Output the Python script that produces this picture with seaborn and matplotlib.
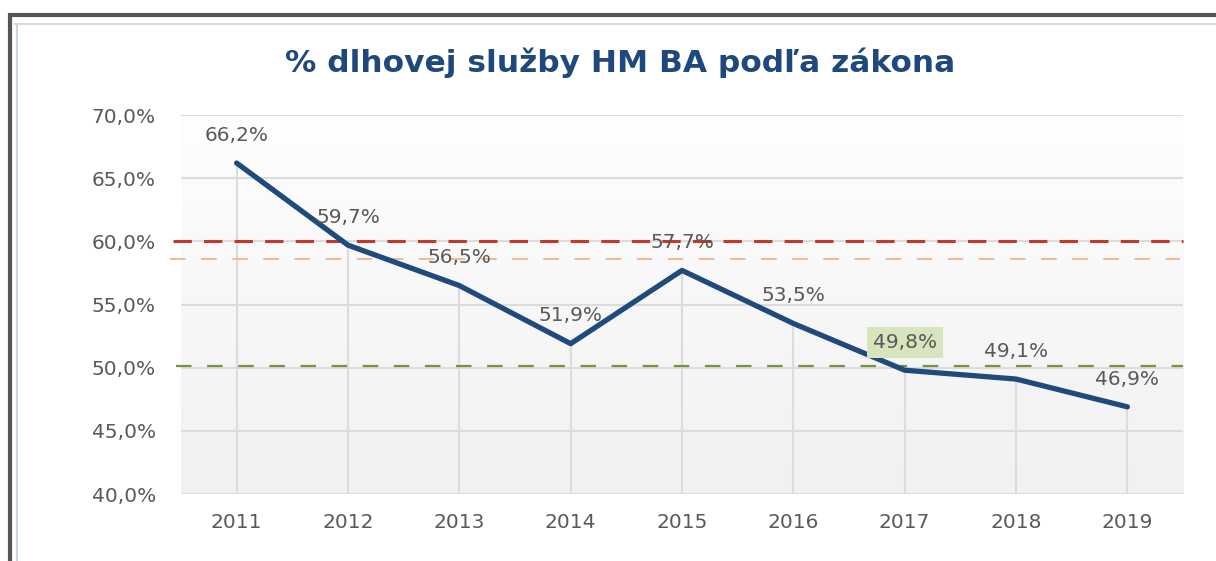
import numpy as np
import pandas as pd
import matplotlib
matplotlib.use("Agg")
import matplotlib.pyplot as plt
import seaborn as sns
from matplotlib.lines import Line2D

years = ["2011", "2012", "2013", "2014", "2015", "2016", "2017", "2018", "2019"]
values = [66.2, 59.7, 56.5, 51.9, 57.7, 53.5, 49.8, 49.1, 46.9]
labels = ["66,2%", "59,7%", "56,5%", "51,9%", "57,7%", "53,5%", "49,8%", "49,1%", "46,9%"]
y_ticks = [40, 45, 50, 55, 60, 65, 70]
y_tick_labels = ["40,0%", "45,0%", "50,0%", "55,0%", "60,0%", "65,0%", "70,0%"]
limit_red = 60.0
limit_orange = 58.6
limit_green = 50.1
title = "% dlhovej služby HM BA podľa zákona"

sns.set_style("white")
plt.rcParams['font.family'] = ['DejaVu Sans']

df = pd.DataFrame({"pos": np.arange(len(years)), "val": values})

fig = plt.figure(figsize=(12.16, 5.61), dpi=100)
ax = fig.add_axes([0.1488, 0.1194, 0.8241, 0.6756])

# gradient background
grad = np.linspace(0, 1, 256).reshape(-1, 1)
cmap = matplotlib.colors.LinearSegmentedColormap.from_list("bg", ["#f1f1f1", "#fefefe"])
ax.imshow(grad, extent=[0, 1, 0, 1], transform=ax.transAxes, aspect="auto",
          cmap=cmap, origin="lower", zorder=0)

ax.set_xlim(-0.5, len(years) - 0.5)
ax.set_ylim(40, 70)

for yv in y_ticks:
    ax.axhline(yv, color="#dcdcdc", lw=1.5, zorder=1)
for i in range(len(years)):
    ax.plot([i, i], [40, values[i]], color="#dcdcdc", lw=1.5, zorder=1)

ax.axhline(limit_red, xmin=-0.008, color="#c0392b", lw=2.2, dashes=(6, 4), zorder=2, clip_on=False)
ax.axhline(limit_orange, xmin=-0.011, xmax=0.997, color="#f7b98c", lw=1.4, dashes=(8, 8), zorder=2, clip_on=False)
ax.axhline(limit_green, xmin=-0.005, color="#77933c", lw=1.6, dashes=(7, 7), zorder=2, clip_on=False)

sns.lineplot(data=df, x="pos", y="val", ax=ax, color="#1F4A7C", lw=3.8, zorder=3)

for i, (v, lab) in enumerate(zip(values, labels)):
    kw = {}
    if lab == "49,8%":
        kw["bbox"] = dict(boxstyle="square,pad=0.3", fc="#d7e4bd", ec="none")
    ax.annotate(lab, (i, v), xytext=(0, 20), textcoords="offset points",
                ha="center", va="center", fontsize=14.5, color="#595959", zorder=4, **kw)

ax.set_xticks(range(len(years)))
ax.set_xticklabels(years)
ax.set_yticks(y_ticks)
ax.set_yticklabels(y_tick_labels)
ax.tick_params(axis="x", length=0, pad=14, labelsize=14.5, labelcolor="#595959")
ax.tick_params(axis="y", length=0, pad=18, labelsize=14.5, labelcolor="#595959")
ax.set_xlabel("")
ax.set_ylabel("")
for s in ax.spines.values():
    s.set_visible(False)

fig.text(0.51, 0.888, title, ha="center", va="center", fontsize=22.5, fontweight="bold", color="#1F497D")

# outer frame decoration
W, H = 1216, 561
def fx(px): return px / W
def fy(py): return 1 - py / H
fig.add_artist(Line2D([fx(8), fx(1216)], [fy(14.5), fy(14.5)], color="#555555", lw=3, solid_capstyle="butt"))
fig.add_artist(Line2D([fx(9.5), fx(9.5)], [fy(13), fy(561)], color="#555555", lw=3, solid_capstyle="butt"))
fig.add_artist(Line2D([fx(14), fx(1216)], [fy(23.5), fy(23.5)], color="#dadada", lw=1.5, solid_capstyle="butt"))
fig.add_artist(Line2D([fx(16.5), fx(16.5)], [fy(23), fy(561)], color="#c9d6e6", lw=1.5, solid_capstyle="butt"))

fig.savefig("out.png", dpi=100)
